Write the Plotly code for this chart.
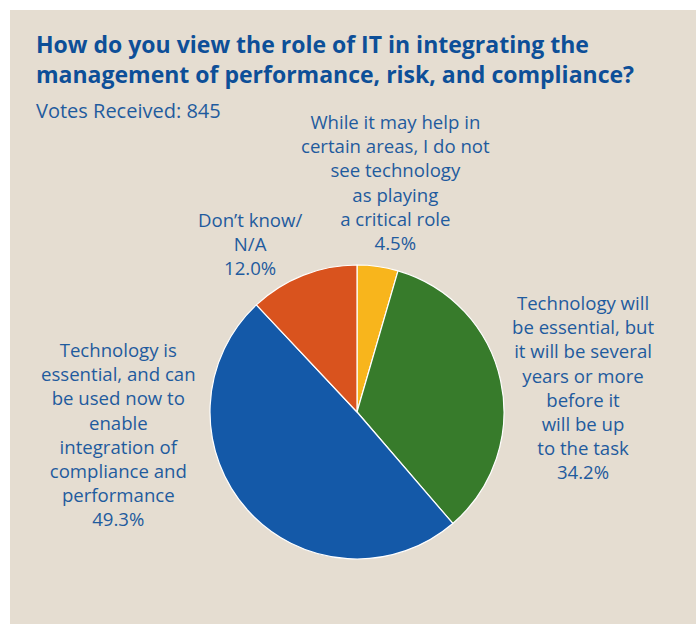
import plotly.graph_objects as go

# Survey results
categories = [
    "While it may help in certain areas, I do not see technology as playing a critical role",
    "Technology will be essential, but it will be several years or more before it will be up to the task",
    "Technology is essential, and can be used now to enable integration of compliance and performance",
    "Don’t know/ N/A",
]
shares = [4.5, 34.2, 49.3, 12.0]
colors = ["#F8B51C", "#377B2B", "#1459A8", "#D9531E"]

# Label text broken into lines as printed beside each slice
label_lines = [
    ["While it may help in", "certain areas, I do not", "see technology", "as playing", "a critical role"],
    ["Technology will", "be essential, but", "it will be several", "years or more", "before it", "will be up", "to the task"],
    ["Technology is", "essential, and can", "be used now to", "enable", "integration of", "compliance and", "performance"],
    ["Don’t know/", "N/A"],
]
# (x center px, y of first line px) for each label block
label_pos = [(395, 122), (583, 302), (118, 349), (250, 219)]
LABEL_SIZE = 18.6
LINE_STEP = LABEL_SIZE * 1.3

W, H = 698, 624
BG = "#E5DDD1"
TXT = "#1F5B9E"
FONT = "Open Sans"

fig = go.Figure()

cx, cy, r = 357, 412, 147
fig.add_trace(go.Pie(
    labels=categories,
    values=shares,
    marker=dict(colors=colors, line=dict(color="white", width=1.2)),
    sort=False,
    direction="clockwise",
    rotation=0,
    textinfo="none",
    hoverinfo="label+percent",
    showlegend=False,
    domain=dict(x=[(cx - r) / W, (cx + r) / W], y=[1 - (cy + r) / H, 1 - (cy - r) / H]),
))

annotations = []
for lines, val, (x, y0) in zip(label_lines, shares, label_pos):
    all_lines = lines + [f"{val:.1f}%"]
    yc = y0 + (len(all_lines) - 1) * LINE_STEP / 2
    annotations.append(dict(
        text="<br>".join(all_lines),
        x=x / W, y=1 - yc / H, xref="paper", yref="paper",
        xanchor="center", yanchor="middle", showarrow=False, align="center",
        font=dict(family=FONT, size=LABEL_SIZE, color=TXT),
    ))

annotations.append(dict(
    text="<b>How do you view the role of IT in integrating the<br>management of performance, risk, and compliance?</b>",
    x=34 / W, y=1 - 59 / H, xref="paper", yref="paper",
    xanchor="left", yanchor="middle", showarrow=False, align="left",
    font=dict(family=FONT, size=23, color="#0D4F98"),
))
annotations.append(dict(
    text="Votes Received: 845",
    x=34 / W, y=1 - 110 / H, xref="paper", yref="paper",
    xanchor="left", yanchor="middle", showarrow=False, align="left",
    font=dict(family=FONT, size=20, color=TXT),
))

fig.update_layout(
    width=W, height=H,
    margin=dict(l=0, r=0, t=0, b=0),
    paper_bgcolor="white",
    plot_bgcolor="white",
    shapes=[dict(type="rect", xref="paper", yref="paper",
                 x0=10 / W, x1=696 / W, y0=0, y1=1 - 10 / H,
                 fillcolor=BG, line=dict(width=0), layer="below")],
    annotations=annotations,
)

fig.write_html("out.html")
